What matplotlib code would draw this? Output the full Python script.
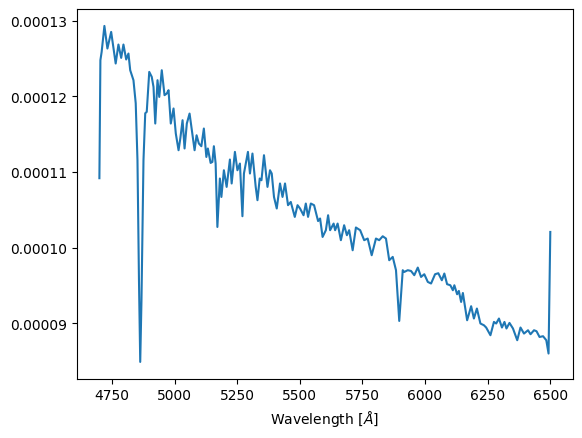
import matplotlib
matplotlib.use("Agg")
import matplotlib.pyplot as plt
import numpy as np

wavelength = [
    4700, 4704, 4709, 4720, 4732, 4747, 4765, 4776, 4787, 4796, 4807, 4816, 4823,
    4836, 4845, 4852, 4858, 4863, 4868, 4876, 4883, 4889, 4899, 4909, 4916, 4923,
    4932, 4939, 4949, 4960, 4969, 4976, 4985, 4996, 5005, 5016, 5023, 5032, 5040,
    5049, 5060, 5069, 5080, 5088, 5097, 5107, 5117, 5127, 5133, 5144, 5151, 5157,
    5164, 5171, 5181, 5187, 5197, 5208, 5221, 5228, 5241, 5251, 5261, 5271, 5277,
    5293, 5301, 5311, 5324, 5331, 5340, 5347, 5357, 5371, 5381, 5388, 5397, 5408,
    5421, 5431, 5441, 5453, 5464, 5480, 5491, 5501, 5515, 5524, 5533, 5544, 5557,
    5573, 5581, 5591, 5604, 5613, 5621, 5635, 5641, 5651, 5664, 5677, 5688, 5697,
    5711, 5724, 5741, 5757, 5771, 5787, 5804, 5817, 5831, 5844, 5857, 5871, 5884,
    5897, 5911, 5917, 5931, 5944, 5957, 5971, 5984, 5997, 6011, 6024, 6040, 6053,
    6067, 6077, 6088, 6101, 6111, 6117, 6128, 6135, 6144, 6151, 6168, 6184, 6195,
    6207, 6221, 6235, 6244, 6261, 6275, 6284, 6295, 6307, 6317, 6325, 6337, 6351,
    6368, 6381, 6395, 6411, 6421, 6435, 6445, 6457, 6471, 6484, 6493, 6500,
]

flux_e5 = [
    10.917, 12.478, 12.587, 12.931, 12.632, 12.852, 12.434, 12.685, 12.508, 12.685,
    12.487, 12.566, 12.345, 12.213, 11.909, 11.155, 9.567, 8.487, 9.303, 11.155,
    11.776, 11.794, 12.323, 12.257, 12.124, 11.640, 12.213, 11.992, 12.345, 12.015,
    12.037, 12.081, 11.640, 11.839, 11.508, 11.287, 11.442, 11.684, 11.310, 11.640,
    11.772, 11.552, 11.287, 11.485, 11.376, 11.340, 11.574, 11.198, 11.310, 11.119,
    11.132, 11.340, 11.111, 10.272, 10.913, 10.669, 11.022, 10.802, 11.164, 10.847,
    11.265, 11.022, 11.111, 10.414, 10.979, 11.265, 10.979, 11.243, 10.802, 10.626,
    10.913, 10.890, 11.221, 10.802, 11.022, 10.979, 10.669, 10.516, 10.847, 10.669,
    10.847, 10.560, 10.603, 10.405, 10.560, 10.516, 10.427, 10.582, 10.405, 10.582,
    10.560, 10.350, 10.384, 10.140, 10.229, 10.427, 10.229, 10.317, 10.229, 10.317,
    10.097, 10.295, 10.163, 10.229, 9.964, 10.265, 10.229, 10.097, 10.119, 9.898,
    10.119, 10.097, 10.149, 10.119, 9.832, 9.876, 9.700, 9.029, 9.700, 9.677,
    9.700, 9.690, 9.634, 9.735, 9.611, 9.647, 9.545, 9.524, 9.647, 9.660,
    9.567, 9.656, 9.515, 9.501, 9.435, 9.501, 9.382, 9.426, 9.280, 9.399,
    9.038, 9.224, 9.061, 9.193, 8.995, 8.972, 8.942, 8.840, 9.016, 8.995,
    9.061, 8.942, 9.016, 8.929, 9.003, 8.929, 8.774, 8.942, 8.862, 8.906,
    8.853, 8.906, 8.893, 8.817, 8.827, 8.774, 8.598, 10.206,
]

flux = np.array(flux_e5) * 1e-5

fig, ax = plt.subplots(figsize=(6.4, 4.8), dpi=100)
ax.plot(wavelength, flux, color="#1f77b4", linewidth=1.5)
ax.set_xlabel(r"Wavelength [$\AA$]")
ax.set_xticks([4750, 5000, 5250, 5500, 5750, 6000, 6250, 6500])
fig.savefig("out.png", bbox_inches="tight")
